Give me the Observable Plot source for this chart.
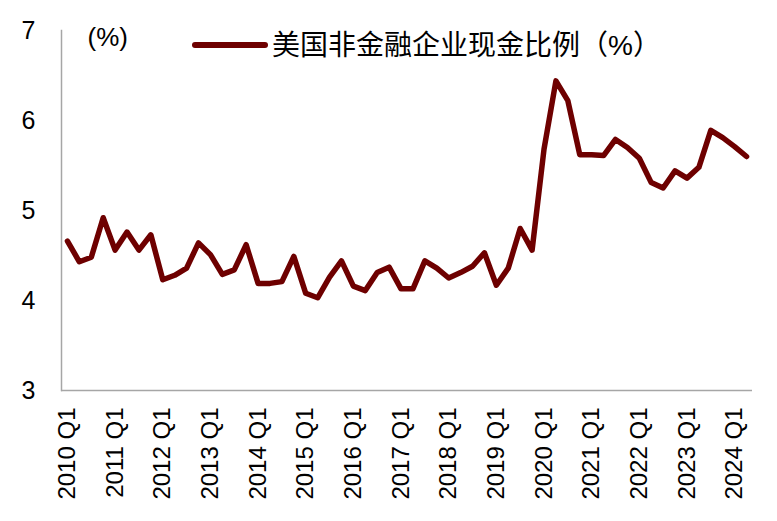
<!DOCTYPE html>
<html>
<head>
<meta charset="utf-8">
<script src="https://cdn.jsdelivr.net/npm/d3@7"></script>
<script src="https://cdn.jsdelivr.net/npm/@observablehq/plot@0.6"></script>
<style>
  html, body { margin: 0; padding: 0; background: #ffffff; }
  #chart { width: 777px; height: 521px; }
</style>
</head>
<body>
<div id="chart"></div>
<script>
// ---- data ----
const years = [2010, 2011, 2012, 2013, 2014, 2015, 2016, 2017, 2018, 2019, 2020, 2021, 2022, 2023, 2024];
const quarterNames = ["Q1", "Q2", "Q3", "Q4"];
const cashRatio = [
  4.66, 4.43, 4.48, 4.92,   // 2010
  4.56, 4.76, 4.56, 4.73,   // 2011
  4.23, 4.28, 4.36, 4.64,   // 2012
  4.51, 4.29, 4.34, 4.62,   // 2013
  4.19, 4.19, 4.21, 4.49,   // 2014
  4.08, 4.03, 4.26, 4.44,   // 2015
  4.16, 4.11, 4.31, 4.37,   // 2016
  4.13, 4.13, 4.44, 4.36,   // 2017
  4.25, 4.31, 4.38, 4.53,   // 2018
  4.17, 4.36, 4.80, 4.56,   // 2019
  5.68, 6.44, 6.22, 5.62,   // 2020
  5.62, 5.61, 5.79, 5.70,   // 2021
  5.58, 5.31, 5.25, 5.44,   // 2022
  5.36, 5.48, 5.89, 5.81,   // 2023
  5.71, 5.60                // 2024
];
const yTicks = [3, 4, 5, 6, 7];
const seriesName = "美国非金融企业现金比例（%）";
const unitLabel = "(%)";

// categories built from the year / quarter lists
const quarters = years.flatMap(y => quarterNames.map(q => `${y} ${q}`)).slice(0, cashRatio.length);
const q1Labels = years.map(y => `${y} Q1`);
const rows = cashRatio.map((v, i) => ({q: quarters[i], v}));

const lineColor = "#6e0000";
const axisColor = "#a6a6a6";
const latin = "'Liberation Sans', Arial, sans-serif";

const chart = Plot.plot({
  width: 777,
  height: 521,
  marginLeft: 61,
  marginRight: 25,
  marginTop: 30,
  marginBottom: 131,
  style: {fontFamily: latin, background: "#ffffff", color: "#000000", overflow: "visible"},
  x: {type: "point", domain: quarters, padding: 0.5, align: 0.5},
  y: {domain: [3, 7]},
  marks: [
    Plot.ruleY([3], {stroke: axisColor, strokeWidth: 1.5}),
    Plot.frame({anchor: "left", stroke: axisColor, strokeWidth: 1.5}),
    Plot.axisY({ticks: yTicks, tickFormat: d3.format("d"), tickSize: 0, tickPadding: 26, fontSize: 25, label: null}),
    Plot.axisX({ticks: q1Labels, tickSize: 0, tickRotate: -90, tickPadding: 17, fontSize: 24, label: null}),
    Plot.line(rows, {x: "q", y: "v", stroke: lineColor, strokeWidth: 5.5, strokeLinejoin: "round", strokeLinecap: "round"}),
    Plot.text([unitLabel], {text: d => d, frameAnchor: "top-left", textAnchor: "start", lineAnchor: "middle", dx: 26, dy: 7, fontSize: 26, fill: "#000000"})
  ]
});

// legend (swatch + label) in the top area of the chart
const svg = d3.select(chart);
const lg = svg.append("g").attr("class", "legend");
lg.append("line")
  .attr("x1", 195).attr("x2", 265).attr("y1", 45).attr("y2", 45)
  .attr("stroke", lineColor).attr("stroke-width", 6).attr("stroke-linecap", "round");
lg.append("text")
  .attr("x", 272).attr("y", 45)
  .attr("text-anchor", "start")
  .attr("dominant-baseline", "central")
  .attr("font-size", 28)
  .attr("font-family", "'Liberation Sans', 'Noto Sans CJK SC', sans-serif")
  .attr("fill", "#000000")
  .text(seriesName);

document.getElementById("chart").appendChild(chart);
</script>
</body>
</html>
